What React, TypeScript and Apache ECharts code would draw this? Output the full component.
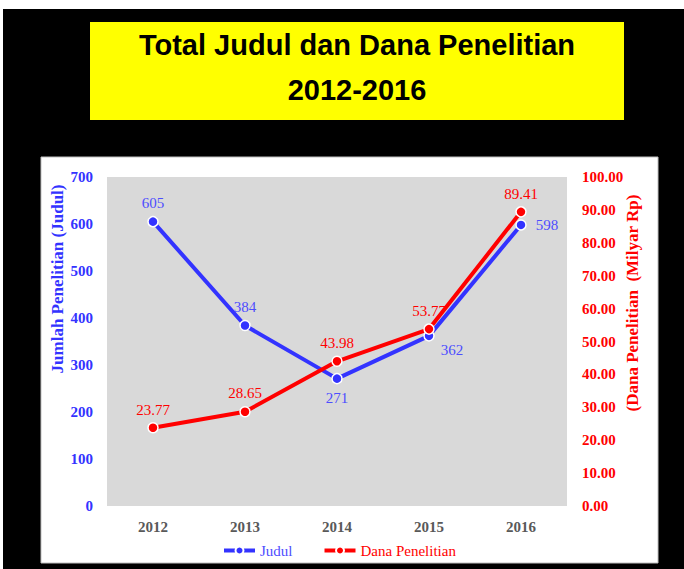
import React, { useEffect, useRef } from "react";
import * as echarts from "echarts";

const years = ["2012", "2013", "2014", "2015", "2016"];
const judul = [605, 384, 271, 362, 598];
const dana = [23.77, 28.65, 43.98, 53.77, 89.41];
const titleLine1 = "Total Judul dan Dana Penelitian";
const titleLine2 = "2012-2016";
const leftAxisName = "Jumlah Penelitian (Judul)";
const rightAxisName = "(Dana Penelitian  (Milyar Rp)";

const BLUE = "#3333ff";
const BLUE_LABEL = "#4d4dff";
const RED = "#ff0000";
const SERIF = "'Liberation Serif', 'Times New Roman', serif";

export default function App() {
  const ref = useRef<HTMLDivElement>(null);
  useEffect(() => {
    if (!ref.current) return;
    const chart = echarts.init(ref.current, null, { renderer: "svg" });
    const judulLabels = ["top", "top", "bottom", "362", "right"];
    const judulData = judul.map((v, i) => {
      const pos = judulLabels[i];
      if (pos === "362") {
        return { value: v, label: { position: "right", distance: 6, offset: [0, 14] } };
      }
      if (pos === "right") {
        return { value: v, label: { position: "right", distance: 9 } };
      }
      if (pos === "bottom") {
        return { value: v, label: { position: "bottom", distance: 6 } };
      }
      return { value: v, label: { position: "top" } };
    });
    chart.setOption({
      animation: false,
      backgroundColor: "#ffffff",
      graphic: [
        { type: "rect", z: -10, shape: { x: 3, y: 9, width: 681, height: 560 }, style: { fill: "#000000" } },
        { type: "rect", z: -9, shape: { x: 90, y: 22, width: 534, height: 98 }, style: { fill: "#ffff00" } },
        {
          type: "text", z: -8, x: 357, y: 45,
          style: { text: titleLine1, fill: "#000", font: "bold 29px 'Liberation Sans', Arial, sans-serif", align: "center", verticalAlign: "middle" },
        },
        {
          type: "text", z: -8, x: 357, y: 90,
          style: { text: titleLine2, fill: "#000", font: "bold 29px 'Liberation Sans', Arial, sans-serif", align: "center", verticalAlign: "middle" },
        },
        { type: "rect", z: -9, shape: { x: 41, y: 157, width: 617, height: 406 }, style: { fill: "#ffffff", stroke: "#bfbfbf", lineWidth: 1 } },
        {
          type: "text", z: 5, x: 57, y: 279, rotation: Math.PI / 2,
          style: { text: leftAxisName, fill: BLUE, font: `bold 17px ${SERIF}`, align: "center", verticalAlign: "middle" },
        },
        {
          type: "text", z: 5, x: 632, y: 303, rotation: Math.PI / 2,
          style: { text: rightAxisName, fill: RED, font: `bold 17px ${SERIF}`, align: "center", verticalAlign: "middle" },
        },
      ],
      grid: {
        left: 107, right: 117, top: 177, bottom: 63,
        show: true, backgroundColor: "#d9d9d9", borderWidth: 0,
      },
      legend: {
        left: 217, top: 538, itemWidth: 31, itemHeight: 10, itemGap: 30,
        lineStyle: { width: 4 },
        textStyle: { fontFamily: SERIF, fontSize: 15 },
        data: [
          { name: "Judul", textStyle: { color: BLUE_LABEL } },
          { name: "Dana Penelitian", textStyle: { color: RED } },
        ],
      },
      xAxis: {
        type: "category", data: years, boundaryGap: true,
        axisLine: { show: false }, axisTick: { show: false },
        axisLabel: { color: "#595959", fontFamily: SERIF, fontWeight: "bold", fontSize: 15, margin: 13 },
        splitLine: { show: false },
      },
      yAxis: [
        {
          type: "value", min: 0, max: 700, interval: 100, position: "left",
          axisLine: { show: false }, axisTick: { show: false }, splitLine: { show: false },
          axisLabel: { color: BLUE, fontFamily: SERIF, fontWeight: "bold", fontSize: 15, margin: 14 },
        },
        {
          type: "value", min: 0, max: 100, interval: 10, position: "right",
          axisLine: { show: false }, axisTick: { show: false }, splitLine: { show: false },
          axisLabel: { color: RED, fontFamily: SERIF, fontWeight: "bold", fontSize: 15, margin: 15, formatter: (v: number) => v.toFixed(2) },
        },
      ],
      series: [
        {
          name: "Judul", type: "line", yAxisIndex: 0, data: judulData,
          symbol: "circle", symbolSize: 10,
          lineStyle: { color: BLUE, width: 4 },
          itemStyle: { color: BLUE, borderColor: "#ffffff", borderWidth: 1.5 },
          label: { show: true, color: BLUE_LABEL, fontFamily: SERIF, fontSize: 15 },
        },
        {
          name: "Dana Penelitian", type: "line", yAxisIndex: 1, data: dana,
          symbol: "circle", symbolSize: 10,
          lineStyle: { color: RED, width: 4 },
          itemStyle: { color: RED, borderColor: "#ffffff", borderWidth: 1.5 },
          label: { show: true, position: "top", color: RED, fontFamily: SERIF, fontSize: 15, formatter: (p: any) => Number(p.value).toFixed(2) },
        },
      ],
    });
    return () => chart.dispose();
  }, []);
  return <div ref={ref} style={{ position: "absolute", left: 0, top: 0, width: 684, height: 569 }} />;
}
